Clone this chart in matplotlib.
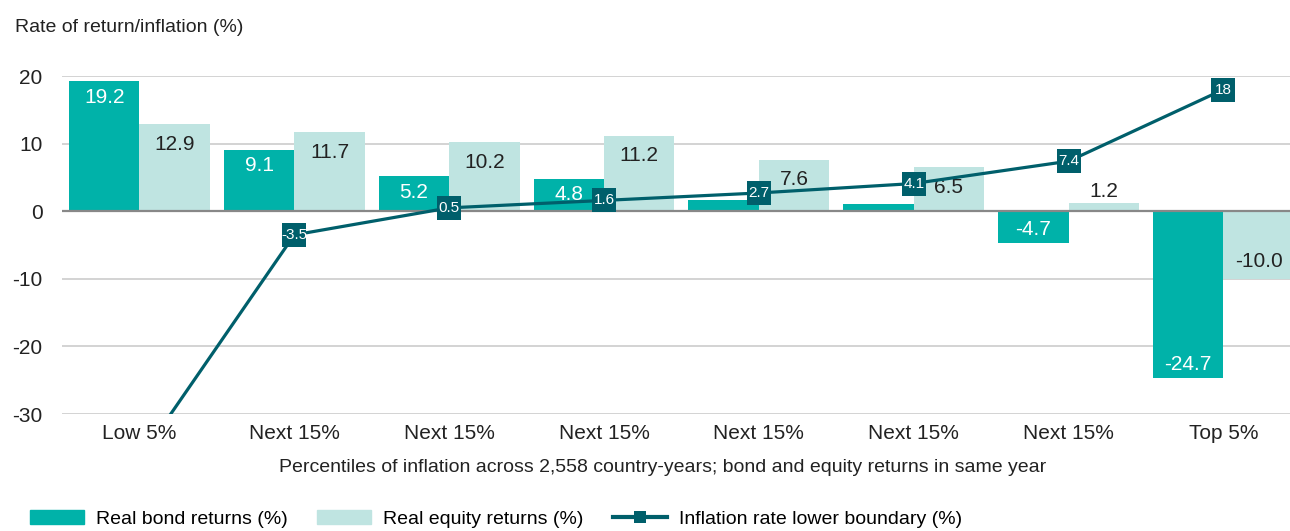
import matplotlib
matplotlib.use("Agg")
import matplotlib.pyplot as plt
import numpy as np
from matplotlib.patches import Patch
from matplotlib.lines import Line2D

plt.rcParams['font.family'] = ['Liberation Sans', 'DejaVu Sans']
plt.rcParams['axes.unicode_minus'] = False

# data
categories = ["Low 5%", "Next 15%", "Next 15%", "Next 15%",
              "Next 15%", "Next 15%", "Next 15%", "Top 5%"]
bond = [19.2, 9.1, 5.2, 4.8, 1.6, 1.0, -4.7, -24.7]
equity = [12.9, 11.7, 10.2, 11.2, 7.6, 6.5, 1.2, -10.0]
inflation = [-36.7, -3.5, 0.5, 1.6, 2.7, 4.1, 7.4, 18]
inflation_labels = ["", "-3.5", "0.5", "1.6", "2.7", "4.1", "7.4", "18"]

c_bond = "#00b2a9"
c_equity = "#bfe4e1"
c_line = "#005f6b"

fig = plt.figure(figsize=(12.9, 5.31), dpi=100)
ax = fig.add_axes([0.0481, 0.2203, 0.9519, 0.6365])

x = np.arange(len(categories))
w = 0.455
ax.bar(x - w / 2, bond, w, color=c_bond, zorder=2)
ax.bar(x + w / 2, equity, w, color=c_equity, zorder=2)

# value labels inside the bar ends (tiny bars get none / label outside)
for xi, v in zip(x - w / 2, bond):
    if abs(v) < 2:
        continue
    off = -16 if v > 0 else 14
    ax.annotate(f"{v:.1f}", (xi, v), xytext=(0, off), textcoords="offset pixels",
                ha="center", va="center", color="white", fontsize=15, zorder=4)
for xi, v in zip(x + w / 2, equity):
    if abs(v) < 2:
        off = 12 if v > 0 else -12
    else:
        off = -20 if v > 0 else 17
    ax.annotate(f"{v:.1f}", (xi, v), xytext=(0, off), textcoords="offset pixels",
                ha="center", va="center", color="#222222", fontsize=15, zorder=4)

# inflation line with boxed labels
ax.plot(x, inflation, color=c_line, lw=2.3, marker="s", ms=17.5, mew=0,
        zorder=5, clip_on=True)
for xi, v, lab in zip(x, inflation, inflation_labels):
    if lab:
        ax.text(xi, v, lab, ha="center", va="center", color="white",
                fontsize=11, zorder=6)

ax.set_xlim(-0.5, 7.43)
ax.set_ylim(-30, 20)
ax.set_yticks([-30, -20, -10, 0, 10, 20])
ax.set_xticks(x)
ax.set_xticklabels(categories)
ax.tick_params(axis="both", length=0, labelsize=15, colors="#222222")
ax.tick_params(axis="y", pad=14)
ax.tick_params(axis="x", pad=7)
for s in ax.spines.values():
    s.set_visible(False)
ax.yaxis.grid(True, color="#cccccc", lw=1.2, zorder=0)
ax.set_axisbelow(True)
ax.axhline(0, color="#888888", lw=1.6, zorder=3)

fig.text(15 / 1290, 1 - 28 / 531, "Rate of return/inflation (%)", fontsize=14,
         color="#222222", va="center", ha="left")
fig.text(663 / 1290, 1 - 468 / 531,
         "Percentiles of inflation across 2,558 country-years; bond and equity returns in same year",
         fontsize=14, color="#222222", va="center", ha="center")

handles = [Patch(color=c_bond), Patch(color=c_equity),
           Line2D([], [], color=c_line, lw=3, marker="s", ms=9, mew=0)]
labels = ["Real bond returns (%)", "Real equity returns (%)",
          "Inflation rate lower boundary (%)"]
fig.legend(handles, labels, loc="lower left", bbox_to_anchor=(0.021, 0.0),
           ncol=3, frameon=False, fontsize=14, handlelength=2.8,
           handleheight=0.75, handletextpad=0.6, columnspacing=1.5,
           borderpad=0.15, borderaxespad=0)

fig.savefig("out.png", dpi=100)
